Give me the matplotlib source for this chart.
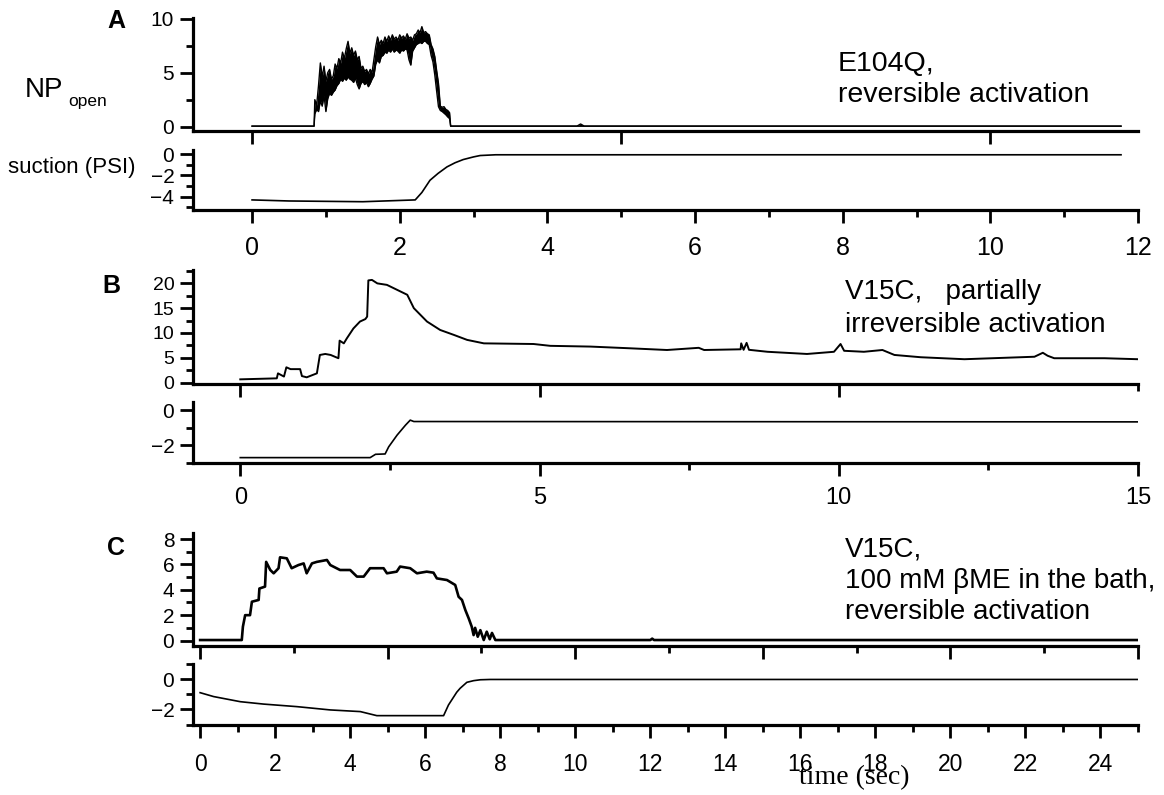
import matplotlib
matplotlib.use("Agg")
import matplotlib.pyplot as plt
from matplotlib.ticker import MultipleLocator, FixedLocator

plt.rcParams['font.family'] = ['Liberation Sans', 'DejaVu Sans']

W, H = 1164, 795

# ---- data ----
# A: E104Q, NPopen drawn as a noisy band (upper / lower envelope)
a_t = [0.00, 0.84,
       0.85, 0.875, 0.90, 0.925, 0.95, 0.975, 1.00, 1.025, 1.05, 1.075,
       1.10, 1.125, 1.15, 1.175, 1.20, 1.225, 1.25, 1.275, 1.30, 1.325,
       1.35, 1.375, 1.40, 1.425, 1.45, 1.475, 1.50, 1.525, 1.55, 1.575,
       1.60, 1.625, 1.65, 1.675, 1.70, 1.725, 1.75, 1.775, 1.80, 1.825,
       1.85, 1.875, 1.90, 1.925, 1.95, 1.975, 2.00, 2.025, 2.05, 2.075,
       2.10, 2.125, 2.15, 2.175, 2.20, 2.225, 2.25, 2.275, 2.30, 2.325,
       2.35, 2.375, 2.40, 2.425, 2.45, 2.475, 2.50, 2.525, 2.55, 2.575,
       2.60, 2.625, 2.65, 2.675,
       2.69, 4.40, 4.45, 4.50, 11.77]
a_hi = [0.05, 0.05,
        2.5, 2.0, 3.8, 5.9, 4.6, 5.6, 4.2, 5.0, 5.3, 4.4,
        4.7, 5.8, 5.4, 6.3, 5.9, 6.9, 6.3, 7.2, 7.9, 6.8,
        7.3, 6.6, 7.0, 6.2, 6.5, 5.4, 5.6, 5.1, 5.3, 4.9,
        5.3, 5.0, 6.2, 7.4, 8.3, 7.6, 8.0, 7.7, 8.3, 7.9,
        8.4, 8.0, 8.5, 8.1, 8.3, 8.0, 8.5, 8.2, 8.4, 8.1,
        8.6, 8.2, 8.3, 8.0, 8.5, 8.6, 8.95, 8.7, 9.26, 8.7,
        8.8, 8.6, 8.5, 7.6, 7.2, 6.5, 5.2, 4.0, 1.9, 1.8,
        1.85, 1.6, 1.5, 1.3,
        0.05, 0.05, 0.25, 0.05, 0.05]
a_lo = [0.05, 0.05,
        1.2, 1.6, 1.4, 2.4, 1.9, 2.9, 1.4, 2.6, 3.1, 2.9,
        3.2, 3.4, 3.8, 4.0, 4.4, 4.2, 4.5, 4.3, 4.6, 4.4,
        4.3, 4.1, 4.5, 3.9, 3.5, 4.0, 4.2, 3.9, 4.1, 3.7,
        4.0, 4.4, 4.7, 5.8, 6.2, 5.9, 6.5, 6.6, 6.9, 6.8,
        7.1, 6.9, 7.2, 6.9, 7.1, 7.0, 6.8, 7.1, 7.0, 7.2,
        7.1, 6.2, 5.7, 7.0, 7.3, 7.6, 7.7, 7.8, 7.7, 7.9,
        7.9, 7.7, 7.6, 6.6, 6.0, 4.8, 3.3, 1.85, 1.5, 1.4,
        1.25, 1.1, 0.9, 0.75,
        0.05, 0.05, 0.05, 0.05, 0.05]
a_su_t = [0.0, 0.5, 1.5, 2.21, 2.3, 2.41, 2.52, 2.64, 2.75, 2.86, 3.0, 3.09, 3.3, 11.77]
a_su_v = [-4.3, -4.4, -4.47, -4.3, -3.6, -2.45, -1.8, -1.19, -0.8, -0.5, -0.25, -0.12, -0.05, -0.05]

# B: V15C, partially irreversible
b_np_t = [0.0, 0.61, 0.63, 0.73, 0.77, 0.84, 1.00, 1.03, 1.11, 1.28,
          1.33, 1.42, 1.51, 1.60, 1.64, 1.66, 1.73, 1.78, 1.89, 2.00,
          2.09, 2.12, 2.14, 2.20, 2.29, 2.45, 2.62, 2.79, 2.90, 3.12,
          3.34, 3.57, 3.79, 4.07, 4.90, 5.18, 5.85, 6.52, 7.13, 7.66,
          7.75, 8.36, 8.37, 8.41, 8.46, 8.50, 8.81, 9.47, 9.92, 10.03,
          10.09, 10.42, 10.73, 10.93, 11.37, 12.10, 13.27, 13.41, 13.49, 13.60,
          14.44, 15.0]
b_np_v = [0.64, 0.84, 1.85, 1.2, 3.07, 2.7, 2.7, 1.3, 1.05, 1.85,
          5.56, 5.76, 5.56, 5.1, 4.9, 8.45, 7.9, 8.9, 10.9, 12.3,
          12.8, 13.3, 20.6, 20.7, 20.0, 19.7, 18.7, 17.7, 15.0, 12.3,
          10.6, 9.6, 8.6, 7.9, 7.77, 7.4, 7.25, 6.9, 6.56, 7.0,
          6.56, 6.7, 7.9, 6.6, 8.0, 6.6, 6.2, 5.76, 6.2, 7.77,
          6.4, 6.2, 6.56, 5.56, 5.1, 4.7, 5.2, 6.0, 5.4, 4.9,
          4.9, 4.7]
b_su_t = [0.0, 2.17, 2.26, 2.42, 2.48, 2.62, 2.76, 2.84, 2.90, 15.0]
b_su_v = [-2.72, -2.72, -2.53, -2.51, -2.1, -1.43, -0.86, -0.57, -0.65, -0.67]

# C: V15C with 100 mM bME
c_np_t = [0.0, 1.11, 1.14, 1.20, 1.33, 1.38, 1.56, 1.58, 1.73, 1.76,
          1.87, 1.96, 2.09, 2.13, 2.31, 2.44, 2.62, 2.76, 2.84, 2.98,
          3.11, 3.38, 3.47, 3.73, 4.00, 4.18, 4.36, 4.53, 4.89, 4.98,
          5.24, 5.33, 5.60, 5.78, 6.04, 6.22, 6.31, 6.58, 6.80, 6.89,
          6.98, 7.07, 7.16, 7.24, 7.29, 7.33, 7.40, 7.47, 7.56, 7.64,
          7.72, 7.78, 7.87, 12.0, 12.05, 12.1, 25.0]
c_np_v = [0.04, 0.04, 1.09, 2.0, 2.0, 3.06, 3.2, 4.1, 4.25, 6.2,
          5.56, 5.3, 5.7, 6.56, 6.48, 5.7, 5.95, 6.08, 5.3, 6.08,
          6.2, 6.35, 5.95, 5.56, 5.56, 5.04, 5.04, 5.7, 5.7, 5.3,
          5.43, 5.83, 5.7, 5.3, 5.43, 5.35, 4.9, 4.77, 4.38, 3.45,
          3.2, 2.4, 1.74, 1.09, 0.43, 1.0, 0.3, 0.82, 0.04, 0.7,
          0.1, 0.6, 0.04, 0.04, 0.15, 0.04, 0.04]
c_su_t = [0.0, 0.36, 1.07, 1.69, 2.58, 3.47, 4.27, 4.71, 6.49, 6.62, 6.84, 6.93, 7.11, 7.29, 7.47, 7.73, 25.0]
c_su_v = [-0.88, -1.14, -1.48, -1.64, -1.81, -2.03, -2.14, -2.41, -2.41, -1.7, -0.85, -0.59, -0.19, -0.08, -0.02, 0.0, 0.0]

fig = plt.figure(figsize=(W / 100, H / 100), dpi=100)


def add_ax(l, t, r, b):
    return fig.add_axes([l / W, 1 - b / H, (r - l) / W, (b - t) / H])


def style(ax, xlim, ylim):
    ax.set_xlim(xlim)
    ax.set_ylim(ylim)
    ax.patch.set_alpha(0)
    for s in ['top', 'right']:
        ax.spines[s].set_visible(False)
    for s in ['left', 'bottom']:
        ax.spines[s].set_linewidth(2.3)
    ax.tick_params(which='both', direction='out', width=2.0)
    ax.tick_params(which='major', length=9.5)
    ax.tick_params(which='minor', length=5)


def ftext(x, y, s, **kw):
    fig.text(x / W, 1 - y / H, s, **kw)


# ---- panel A ----
axA1 = add_ax(193, 18, 1138, 131)
style(axA1, (-0.8, 12), (-0.4, 10.06))
axA1.fill_between(a_t, a_lo, a_hi, color='black', lw=0)
axA1.plot(a_t, a_hi, color='black', lw=1.0)
axA1.plot(a_t, a_lo, color='black', lw=1.0)
axA1.xaxis.set_major_locator(FixedLocator([0, 5, 10]))
axA1.tick_params(axis='x', labelbottom=False)
axA1.yaxis.set_major_locator(MultipleLocator(5))
axA1.yaxis.set_minor_locator(MultipleLocator(2.5))
axA1.tick_params(axis='y', labelsize=15, pad=4)

axA2 = add_ax(193, 150, 1138, 210)
style(axA2, (-0.8, 12), (-5.25, 0.4))
axA2.plot(a_su_t, a_su_v, color='black', lw=1.2)
axA2.xaxis.set_major_locator(MultipleLocator(2))
axA2.xaxis.set_minor_locator(MultipleLocator(1))
axA2.yaxis.set_major_locator(FixedLocator([0, -2, -4]))
axA2.yaxis.set_minor_locator(FixedLocator([-1, -3, -5]))
axA2.tick_params(axis='y', labelsize=15, pad=4)
axA2.tick_params(axis='x', labelsize=18, pad=9)

# ---- panel B ----
axB1 = add_ax(193, 270, 1138, 384)
style(axB1, (-0.79, 15), (-0.3, 22.7))
axB1.plot(b_np_t, b_np_v, color='black', lw=1.4)
axB1.xaxis.set_major_locator(FixedLocator([0, 5, 10]))
axB1.xaxis.set_minor_locator(FixedLocator([15]))
axB1.tick_params(axis='x', labelbottom=False)
axB1.yaxis.set_major_locator(MultipleLocator(5))
axB1.yaxis.set_minor_locator(MultipleLocator(2.5))
axB1.tick_params(axis='y', labelsize=14, pad=4)

axB2 = add_ax(193, 402, 1138, 462.5)
style(axB2, (-0.79, 15), (-3, 0.47))
axB2.plot(b_su_t, b_su_v, color='black', lw=1.2)
axB2.xaxis.set_major_locator(MultipleLocator(5))
axB2.xaxis.set_minor_locator(MultipleLocator(2.5))
axB2.yaxis.set_major_locator(FixedLocator([0, -2]))
axB2.yaxis.set_minor_locator(FixedLocator([-1, -3]))
axB2.tick_params(axis='y', labelsize=15, pad=4)
axB2.tick_params(axis='x', labelsize=17, pad=8)

# ---- panel C ----
axC1 = add_ax(193, 532.7, 1138, 646)
style(axC1, (-0.19, 25), (-0.43, 8.5))
axC1.plot(c_np_t, c_np_v, color='black', lw=1.9)
axC1.xaxis.set_major_locator(MultipleLocator(5))
axC1.xaxis.set_minor_locator(MultipleLocator(2.5))
axC1.tick_params(axis='x', labelbottom=False)
axC1.yaxis.set_major_locator(MultipleLocator(2))
axC1.yaxis.set_minor_locator(MultipleLocator(1))
axC1.tick_params(axis='y', labelsize=15, pad=4)

axC2 = add_ax(193, 664, 1138, 724.5)
style(axC2, (-0.19, 25), (-3, 1.03))
axC2.plot(c_su_t, c_su_v, color='black', lw=1.2)
axC2.xaxis.set_major_locator(MultipleLocator(2))
axC2.xaxis.set_minor_locator(MultipleLocator(1))
axC2.yaxis.set_major_locator(FixedLocator([0, -2]))
axC2.yaxis.set_minor_locator(FixedLocator([1, -1, -3]))
axC2.tick_params(axis='y', labelsize=15, pad=4)
axC2.tick_params(axis='x', labelsize=16.5, pad=11)

# ---- labels ----
ftext(116, 21, 'A', fontsize=18, fontweight='bold', ha='center', va='center')
ftext(111, 286, 'B', fontsize=18, fontweight='bold', ha='center', va='center')
ftext(116, 548, 'C', fontsize=18, fontweight='bold', ha='center', va='center')

ftext(25, 97, 'NP', fontsize=20, ha='left', va='baseline')
ftext(68, 106, 'open', fontsize=12.5, ha='left', va='baseline')
ftext(8, 173, 'suction (PSI)', fontsize=16, ha='left', va='baseline')

ftext(838, 71, 'E104Q,', fontsize=20.5, ha='left', va='baseline')
ftext(838, 102, 'reversible activation', fontsize=20.5, ha='left', va='baseline')
ftext(845, 299, 'V15C,   partially', fontsize=20, ha='left', va='baseline')
ftext(845, 332, 'irreversible activation', fontsize=20, ha='left', va='baseline')
ftext(845, 557, 'V15C,', fontsize=20, ha='left', va='baseline')
ftext(845, 588, '100 mM \u03b2ME in the bath,', fontsize=20, ha='left', va='baseline')
ftext(845, 619, 'reversible activation', fontsize=20, ha='left', va='baseline')

ftext(854, 778, 'time (sec)', fontsize=20, family=['Liberation Serif', 'DejaVu Serif'],
      ha='center', va='center')

fig.savefig('out.png', dpi=100)
